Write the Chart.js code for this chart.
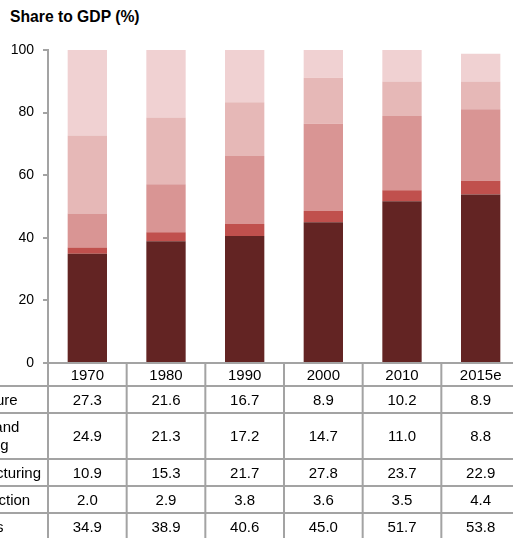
<!DOCTYPE html>
<html>
<head>
<meta charset="utf-8">
<script src="https://cdn.jsdelivr.net/npm/chart.js@4"></script>
<style>
  html, body { margin: 0; padding: 0; background: #fff; overflow: hidden; width: 513px; height: 538px; }
  #title { position: absolute; left: 10px; top: 9px; font: bold 15.7px "Liberation Sans", Arial, sans-serif; line-height: 16px; color: #000; }
  #wrap { position: absolute; left: -60px; top: 0; }
</style>
</head>
<body>
<div id="title">Share to GDP (%)</div>
<div id="wrap"><canvas id="gdpChart" width="640" height="538"></canvas></div>
<script>
// ===============================
// DATA
// ===============================
const years = ['1970', '1980', '1990', '2000', '2010', '2015e'];
const agriculture = [27.3, 21.6, 16.7, 8.9, 10.2, 8.9];
const mining = [24.9, 21.3, 17.2, 14.7, 11.0, 8.8];
const manufacturing = [10.9, 15.3, 21.7, 27.8, 23.7, 22.9];
const construction = [2.0, 2.9, 3.8, 3.6, 3.5, 4.4];
const services = [34.9, 38.9, 40.6, 45.0, 51.7, 53.8];
const yTicks = [0, 20, 40, 60, 80, 100];

// table rows, top to bottom
const tableRows = [
  { label: ['Agriculture'], values: agriculture },
  { label: ['Mining and', 'quarrying'], values: mining },
  { label: ['Manufacturing'], values: manufacturing },
  { label: ['Construction'], values: construction },
  { label: ['Services'], values: services },
];

const FONT = '"Liberation Sans", Arial, sans-serif';
const LINE = '#a3a3a3';

// ===============================
// TABLE UNDER THE CHART
// ===============================
const tablePlugin = {
  id: 'dataTable',
  afterDraw(chart) {
    const ctx = chart.ctx;
    const x = chart.scales.x;
    const area = chart.chartArea;
    const top = area.bottom;
    const rowBottoms = [top + 23, top + 50, top + 96, top + 123, top + 150, top + 177];
    const labelLeft = 2;
    const colW = (area.right - area.left) / years.length;

    ctx.save();
    ctx.strokeStyle = LINE;
    ctx.lineWidth = 2;

    // horizontal lines
    ctx.beginPath();
    ctx.moveTo(area.left - 5, top);
    ctx.lineTo(area.right, top);
    rowBottoms.forEach((y) => {
      ctx.moveTo(labelLeft, y);
      ctx.lineTo(area.right, y);
    });
    // vertical lines
    for (let i = 0; i <= years.length; i++) {
      const cx = area.left + i * colW;
      ctx.moveTo(cx, top);
      ctx.lineTo(cx, rowBottoms[rowBottoms.length - 1]);
    }
    ctx.moveTo(labelLeft, rowBottoms[0]);
    ctx.lineTo(labelLeft, rowBottoms[rowBottoms.length - 1]);
    ctx.stroke();

    ctx.fillStyle = '#000';
    ctx.font = '15px ' + FONT;
    ctx.textBaseline = 'middle';

    // header
    ctx.textAlign = 'center';
    years.forEach((yr, i) => {
      ctx.fillText(yr, x.getPixelForValue(i), (top + rowBottoms[0]) / 2 + 1);
    });

    // rows
    tableRows.forEach((row, r) => {
      const y0 = rowBottoms[r];
      const y1 = rowBottoms[r + 1];
      const mid = (y0 + y1) / 2 + 1;
      ctx.textAlign = 'left';
      if (row.label.length === 1) {
        ctx.fillText(row.label[0], labelLeft + 4, mid);
      } else {
        ctx.fillText(row.label[0], labelLeft + 4, mid - 9);
        ctx.fillText(row.label[1], labelLeft + 4, mid + 9);
      }
      ctx.textAlign = 'center';
      row.values.forEach((v, i) => {
        ctx.fillText(v.toFixed(1), x.getPixelForValue(i), mid);
      });
    });
    ctx.restore();
  },
};

// ===============================
// STACKED BAR CHART
// ===============================
const gdpCtx = document.getElementById('gdpChart').getContext('2d');
const gdpChart = new Chart(gdpCtx, {
  type: 'bar',
  data: {
    labels: years,
    datasets: [
      { label: 'Services', data: services, backgroundColor: '#632423' },
      { label: 'Construction', data: construction, backgroundColor: '#c0504d' },
      { label: 'Manufacturing', data: manufacturing, backgroundColor: '#d99594' },
      { label: 'Mining and quarrying', data: mining, backgroundColor: '#e6b8b7' },
      { label: 'Agriculture', data: agriculture, backgroundColor: '#f0d1d2' },
    ],
  },
  options: {
    responsive: false,
    animation: false,
    devicePixelRatio: 1,
    layout: { padding: { left: 0, right: 60, top: 50, bottom: 175 } },
    datasets: {
      bar: {
        categoryPercentage: 1,
        barPercentage: 0.5,
        borderWidth: 0,
      },
    },
    plugins: {
      legend: { display: false },
      tooltip: { enabled: false },
    },
    scales: {
      x: {
        stacked: true,
        display: false,
      },
      y: {
        stacked: true,
        min: 0,
        max: 100,
        afterFit: (scale) => { scale.width = 108; },
        afterBuildTicks: (scale) => { scale.ticks = yTicks.map((v) => ({ value: v })); },
        ticks: {
          padding: 9,
          color: '#000',
          font: { family: FONT, size: 14 },
        },
        grid: {
          drawOnChartArea: false,
          drawTicks: true,
          tickLength: 5,
          color: LINE,
          lineWidth: 2,
        },
        border: { display: true, color: LINE, width: 2 },
      },
    },
  },
  plugins: [tablePlugin],
});
</script>
</body>
</html>
